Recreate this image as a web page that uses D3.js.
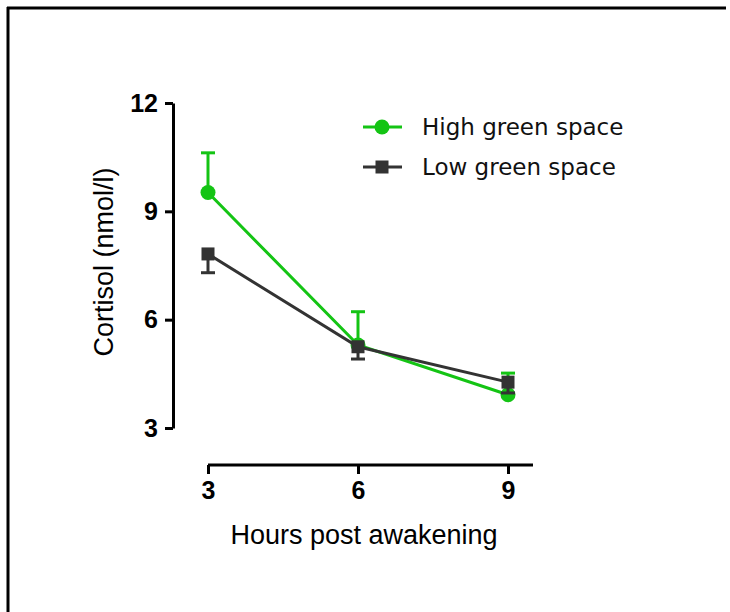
<!DOCTYPE html>
<html>
<head>
<meta charset="utf-8">
<script src="https://d3js.org/d3.v7.min.js"></script>
<style>
  body { margin: 0; background: #fff; overflow: hidden; }
  svg { display: block; }
</style>
</head>
<body>
<div id="viz"></div>
<script>
// data
var hours = [3, 6, 9];
var highMean = [9.52, 5.3, 3.92];
var highErr  = [1.1, 0.92, 0.6];     // shown upward only
var lowMean  = [7.82, 5.25, 4.27];
var lowErr   = [0.52, 0.34, 0.3];    // shown downward only
var yTicks = [3, 6, 9, 12];
var xTicks = [3, 6, 9];
var seriesNames = ["High green space", "Low green space"];

var green = "#14c414", dark = "#333333";

var svg = d3.select("#viz").append("svg")
  .attr("width", 730).attr("height", 612);

// border (top + left only)
svg.append("line").attr("x1", 8).attr("x2", 8).attr("y1", 7).attr("y2", 612)
  .attr("stroke", "#000").attr("stroke-width", 3);
svg.append("line").attr("x1", 7).attr("x2", 726).attr("y1", 8).attr("y2", 8)
  .attr("stroke", "#000").attr("stroke-width", 3);

var x = d3.scaleLinear().domain([3, 9]).range([208, 508]);
var y = d3.scaleLinear().domain([3, 12]).range([428, 103]);

// y axis
var yAxis = svg.append("g").attr("transform", "translate(173,0)")
  .call(d3.axisLeft(y).tickValues(yTicks).tickFormat(d3.format("d"))
    .tickSize(8).tickPadding(7).tickSizeOuter(0));
// x axis
var xAxis = svg.append("g").attr("transform", "translate(0,465)")
  .call(d3.axisBottom(x).tickValues(xTicks).tickFormat(d3.format("d"))
    .tickSize(9).tickPadding(7).tickSizeOuter(0));
// extend x axis line past last tick, Prism style
xAxis.select(".domain").attr("d", "M" + x(3) + ",0H" + x(9.5));

[yAxis, xAxis].forEach(function (g) {
  g.attr("font-size", null).attr("font-family", null);
  g.select(".domain").attr("stroke", "#000").attr("stroke-width", 3);
  g.selectAll(".tick line").attr("stroke", "#000").attr("stroke-width", 3);
  g.selectAll(".tick text").attr("fill", "#000")
    .style("font-family", "'Liberation Sans', Arial, sans-serif")
    .style("font-weight", "bold").style("font-size", "25px");
});

// axis titles
svg.append("text").attr("x", 364).attr("y", 544)
  .attr("text-anchor", "middle")
  .style("font-family", "'Liberation Sans', Arial, sans-serif")
  .style("font-size", "27px").text("Hours post awakening");
svg.append("text")
  .attr("transform", "translate(113,262) rotate(-90)")
  .attr("text-anchor", "middle")
  .style("font-family", "'Liberation Sans', Arial, sans-serif")
  .style("font-size", "27px").text("Cortisol (nmol/l)");

var line = d3.line().x(function (d) { return x(d[0]); }).y(function (d) { return y(d[1]); });

function drawErr(means, errs, dir, color) {
  hours.forEach(function (h, i) {
    var end = means[i] + dir * errs[i];
    svg.append("line").attr("x1", x(h)).attr("x2", x(h))
      .attr("y1", y(means[i])).attr("y2", y(end))
      .attr("stroke", color).attr("stroke-width", 3);
    svg.append("line").attr("x1", x(h) - 7).attr("x2", x(h) + 7)
      .attr("y1", y(end)).attr("y2", y(end))
      .attr("stroke", color).attr("stroke-width", 3);
  });
}

// high series first, low series drawn on top
drawErr(highMean, highErr, 1, green);
svg.append("path").datum(d3.zip(hours, highMean)).attr("d", line)
  .attr("fill", "none").attr("stroke", green).attr("stroke-width", 3);
svg.selectAll(".hi").data(d3.zip(hours, highMean)).enter().append("circle")
  .attr("cx", function (d) { return x(d[0]); }).attr("cy", function (d) { return y(d[1]); })
  .attr("r", 7.5).attr("fill", green);

drawErr(lowMean, lowErr, -1, dark);
svg.append("path").datum(d3.zip(hours, lowMean)).attr("d", line)
  .attr("fill", "none").attr("stroke", dark).attr("stroke-width", 3);
svg.selectAll(".lo").data(d3.zip(hours, lowMean)).enter().append("rect")
  .attr("x", function (d) { return x(d[0]) - 6.5; }).attr("y", function (d) { return y(d[1]) - 6.5; })
  .attr("width", 13).attr("height", 13).attr("fill", dark);

// legend
var legY = [127, 167];
var legColors = [green, dark];
seriesNames.forEach(function (name, i) {
  svg.append("line").attr("x1", 363).attr("x2", 402).attr("y1", legY[i]).attr("y2", legY[i])
    .attr("stroke", legColors[i]).attr("stroke-width", 3);
  if (i === 0) {
    svg.append("circle").attr("cx", 382).attr("cy", legY[i]).attr("r", 7.5).attr("fill", green);
  } else {
    svg.append("rect").attr("x", 375.5).attr("y", legY[i] - 6.5).attr("width", 13).attr("height", 13).attr("fill", dark);
  }
  svg.append("text").attr("x", 422).attr("y", legY[i] + 8)
    .style("font-family", "'DejaVu Sans', Verdana, sans-serif")
    .style("font-size", "23px").attr("fill", "#111").text(name);
});
</script>
</body>
</html>
